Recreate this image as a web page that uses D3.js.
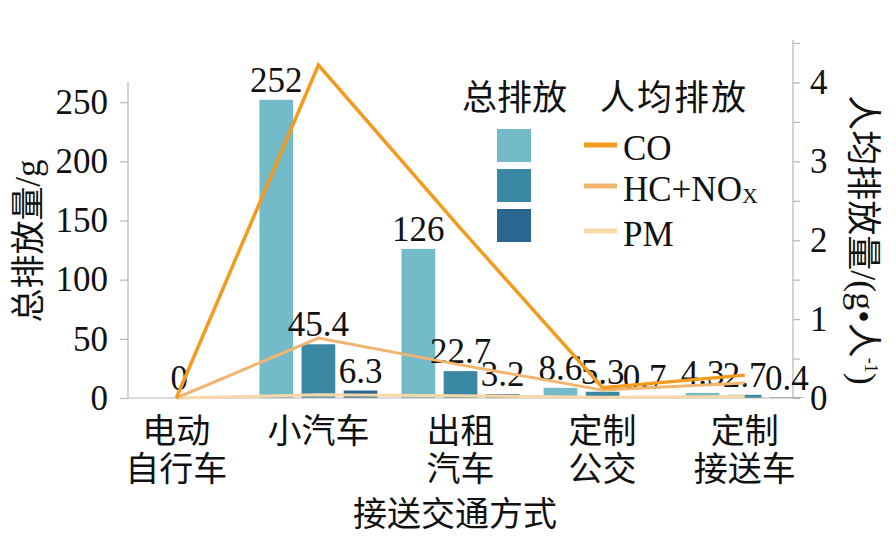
<!DOCTYPE html>
<html>
<head>
<meta charset="utf-8">
<script src="https://cdn.jsdelivr.net/npm/d3@7"></script>
<style>
  body { margin: 0; background: #fff; }
  svg { display: block; }
  .serif { font-family: "Liberation Serif", "Times New Roman", Tinos, "DejaVu Serif", serif; }
  .cjk { font-family: "Noto Sans CJK SC", "Noto Sans CJK JP", sans-serif; }
</style>
</head>
<body>
<div id="chart"></div>
<script>
// categories and their two-line tick labels
const categories = ['电动自行车', '小汽车', '出租汽车', '定制公交', '定制接送车'];
const categoryLines = [['电动', '自行车'], ['小汽车'], ['出租', '汽车'], ['定制', '公交'], ['定制', '接送车']];

// total emissions (g), left axis
const totalCO = [0, 252, 126, 8.6, 4.3];
const totalHCNOx = [0, 45.4, 22.7, 5.3, 2.7];
const totalPM = [0, 6.3, 3.2, 0.7, 0.4];

// per-capita emissions (g per person), right axis
const perCO = [0, 4.22, 2.15, 0.13, 0.29];
const perHCNOx = [0, 0.76, 0.42, 0.1, 0.19];
const perPM = [0, 0.04, 0.03, 0.01, 0.02];

const leftTicks = [0, 50, 100, 150, 200, 250];
const rightTicks = [0, 1, 2, 3, 4];

const barColors = ['#74bbc9', '#3b88a5', '#2b6690'];
const lineColors = ['#f29b1f', '#f1b56f', '#f7d8a8'];

const W = 896, H = 536;
const axisGray = '#b5b5b5';

const svg = d3.select('#chart').append('svg').attr('width', W).attr('height', H);

const x0 = 128, x1 = 793, yBase = 398, yTop = 43;

// scales
const xScale = d3.scalePoint().domain(categories).range([x0, x1]).padding(0.34);
const inner = d3.scaleBand().domain([0, 1, 2]).range([-59, 59]).paddingInner(0.2);
const yLeft = d3.scaleLinear().domain([0, 300]).range([yBase, yTop]);
const yRight = d3.scaleLinear().domain([0, 4.5]).range([yBase, yTop]);

// bars
const totals = [totalCO, totalHCNOx, totalPM];
const barData = [];
categories.forEach((c, i) => {
  totals.forEach((s, k) => barData.push({ c, k, v: s[i] }));
});

svg.append('g')
  .selectAll('rect')
  .data(barData.filter(d => d.v > 0))
  .enter()
  .append('rect')
  .attr('x', d => xScale(d.c) + inner(d.k))
  .attr('width', inner.bandwidth())
  .attr('y', d => yLeft(d.v))
  .attr('height', d => yBase - yLeft(d.v))
  .attr('fill', d => barColors[d.k]);

// axes
const gl = svg.append('g')
  .attr('transform', `translate(${x0},0)`)
  .call(d3.axisLeft(yLeft).tickValues(leftTicks).tickSize(8).tickPadding(12));
gl.select('.domain').remove();
gl.attr('font-family', null).attr('font-size', null);
gl.selectAll('line').attr('stroke', axisGray).attr('stroke-width', 1.2);
gl.selectAll('text').attr('class', 'serif').attr('font-size', 35).attr('fill', '#111');
gl.append('line').attr('x1', 0).attr('x2', 0).attr('y1', yBase).attr('y2', 82)
  .attr('stroke', axisGray).attr('stroke-width', 1.2);

const gr = svg.append('g')
  .attr('transform', `translate(${x1},0)`)
  .call(d3.axisRight(yRight).tickValues(d3.range(0, 4.51, 0.5)).tickSize(7).tickPadding(10)
    .tickFormat(d => (rightTicks.includes(d) ? d : '')));
gr.select('.domain').remove();
gr.attr('font-family', null).attr('font-size', null);
gr.selectAll('line').attr('stroke', axisGray).attr('stroke-width', 1.2);
gr.selectAll('text').attr('class', 'serif').attr('font-size', 35).attr('fill', '#111');
gr.append('line').attr('x1', 0).attr('x2', 0).attr('y1', yBase).attr('y2', 40)
  .attr('stroke', axisGray).attr('stroke-width', 1.2);

svg.append('line')
  .attr('x1', x0).attr('x2', x1).attr('y1', yBase).attr('y2', yBase)
  .attr('stroke', axisGray).attr('stroke-width', 1.2);

// value labels above bars
const labelData = [];
categories.forEach((c, i) => {
  if (totals.every(s => s[i] === 0)) {
    labelData.push({ x: xScale(c) + 3, v: 0 });
  } else {
    totals.forEach((s, k) => labelData.push({ x: xScale(c) + inner(k) + inner.bandwidth() / 2, v: s[i] }));
  }
});

svg.append('g')
  .selectAll('text')
  .data(labelData)
  .enter()
  .append('text')
  .attr('class', 'serif')
  .attr('x', d => d.x)
  .attr('y', d => yLeft(d.v) - 8)
  .attr('text-anchor', 'middle')
  .attr('font-size', 35)
  .attr('fill', '#111')
  .text(d => d.v);

// per-capita lines
const line = d3.line()
  .x((d, i) => xScale(categories[i]))
  .y(d => yRight(d));

[perPM, perHCNOx, perCO].forEach((s, j) => {
  svg.append('path')
    .datum(s)
    .attr('fill', 'none')
    .attr('stroke', lineColors[2 - j])
    .attr('stroke-width', j === 2 ? 3.5 : 3)
    .attr('d', line);
});

// category labels (one text per category, lines as tspans)
const xl = svg.append('g');
categories.forEach((c, i) => {
  const t = xl.append('text')
    .attr('class', 'cjk')
    .attr('y', 443)
    .attr('text-anchor', 'middle')
    .attr('font-size', 34)
    .attr('fill', '#111');
  categoryLines[i].forEach((s, r) => {
    t.append('tspan')
      .attr('x', xScale(c))
      .attr('dy', r === 0 ? 0 : 38)
      .text(s);
  });
});

svg.append('text')
  .attr('class', 'cjk')
  .attr('x', 455).attr('y', 526)
  .attr('text-anchor', 'middle')
  .attr('font-size', 34).attr('fill', '#111')
  .text('接送交通方式');

// left axis title
const lt = svg.append('text')
  .attr('class', 'cjk')
  .attr('transform', 'translate(40,241) rotate(-90)')
  .attr('text-anchor', 'middle')
  .attr('font-size', 34).attr('fill', '#111');
lt.append('tspan').text('总排放量');
lt.append('tspan').attr('class', 'serif').attr('font-size', 35).text('/g');

// right axis title
const rt = svg.append('text')
  .attr('class', 'cjk')
  .attr('transform', 'translate(851,240) rotate(90)')
  .attr('text-anchor', 'middle')
  .attr('font-size', 35).attr('fill', '#111');
rt.append('tspan').text('人均排放量');
rt.append('tspan').attr('class', 'serif').attr('font-size', 36).text('/(g•');
rt.append('tspan').text('人');
rt.append('tspan').attr('class', 'serif').attr('font-size', 18).attr('dy', -14).text('-1');
rt.append('tspan').attr('class', 'serif').attr('font-size', 36).attr('dy', 14).text(')');

// legend
const lg = svg.append('g');
lg.append('text').attr('class', 'cjk').attr('x', 462).attr('y', 110)
  .attr('font-size', 35).attr('fill', '#111').text('总排放');
lg.append('text').attr('class', 'cjk').attr('x', 600).attr('y', 110)
  .attr('font-size', 35).attr('letter-spacing', 2).attr('fill', '#111').text('人均排放');

barColors.forEach((col, k) => {
  lg.append('rect')
    .attr('x', 497).attr('y', 129 + k * 40)
    .attr('width', 34).attr('height', 33)
    .attr('fill', col);
});

const lineNames = ['CO', 'HC+NO', 'PM'];
lineColors.forEach((col, k) => {
  const yy = [145, 186, 231][k];
  lg.append('line')
    .attr('x1', 584).attr('x2', 617).attr('y1', yy).attr('y2', yy)
    .attr('stroke', col).attr('stroke-width', 5);
  const t = lg.append('text')
    .attr('class', 'serif')
    .attr('x', 623).attr('y', yy + 15)
    .attr('font-size', 35).attr('fill', '#111')
    .text(lineNames[k]);
  if (k === 1) {
    t.append('tspan').attr('font-size', 22).attr('dy', 2).text('X');
  }
});
</script>
</body>
</html>
